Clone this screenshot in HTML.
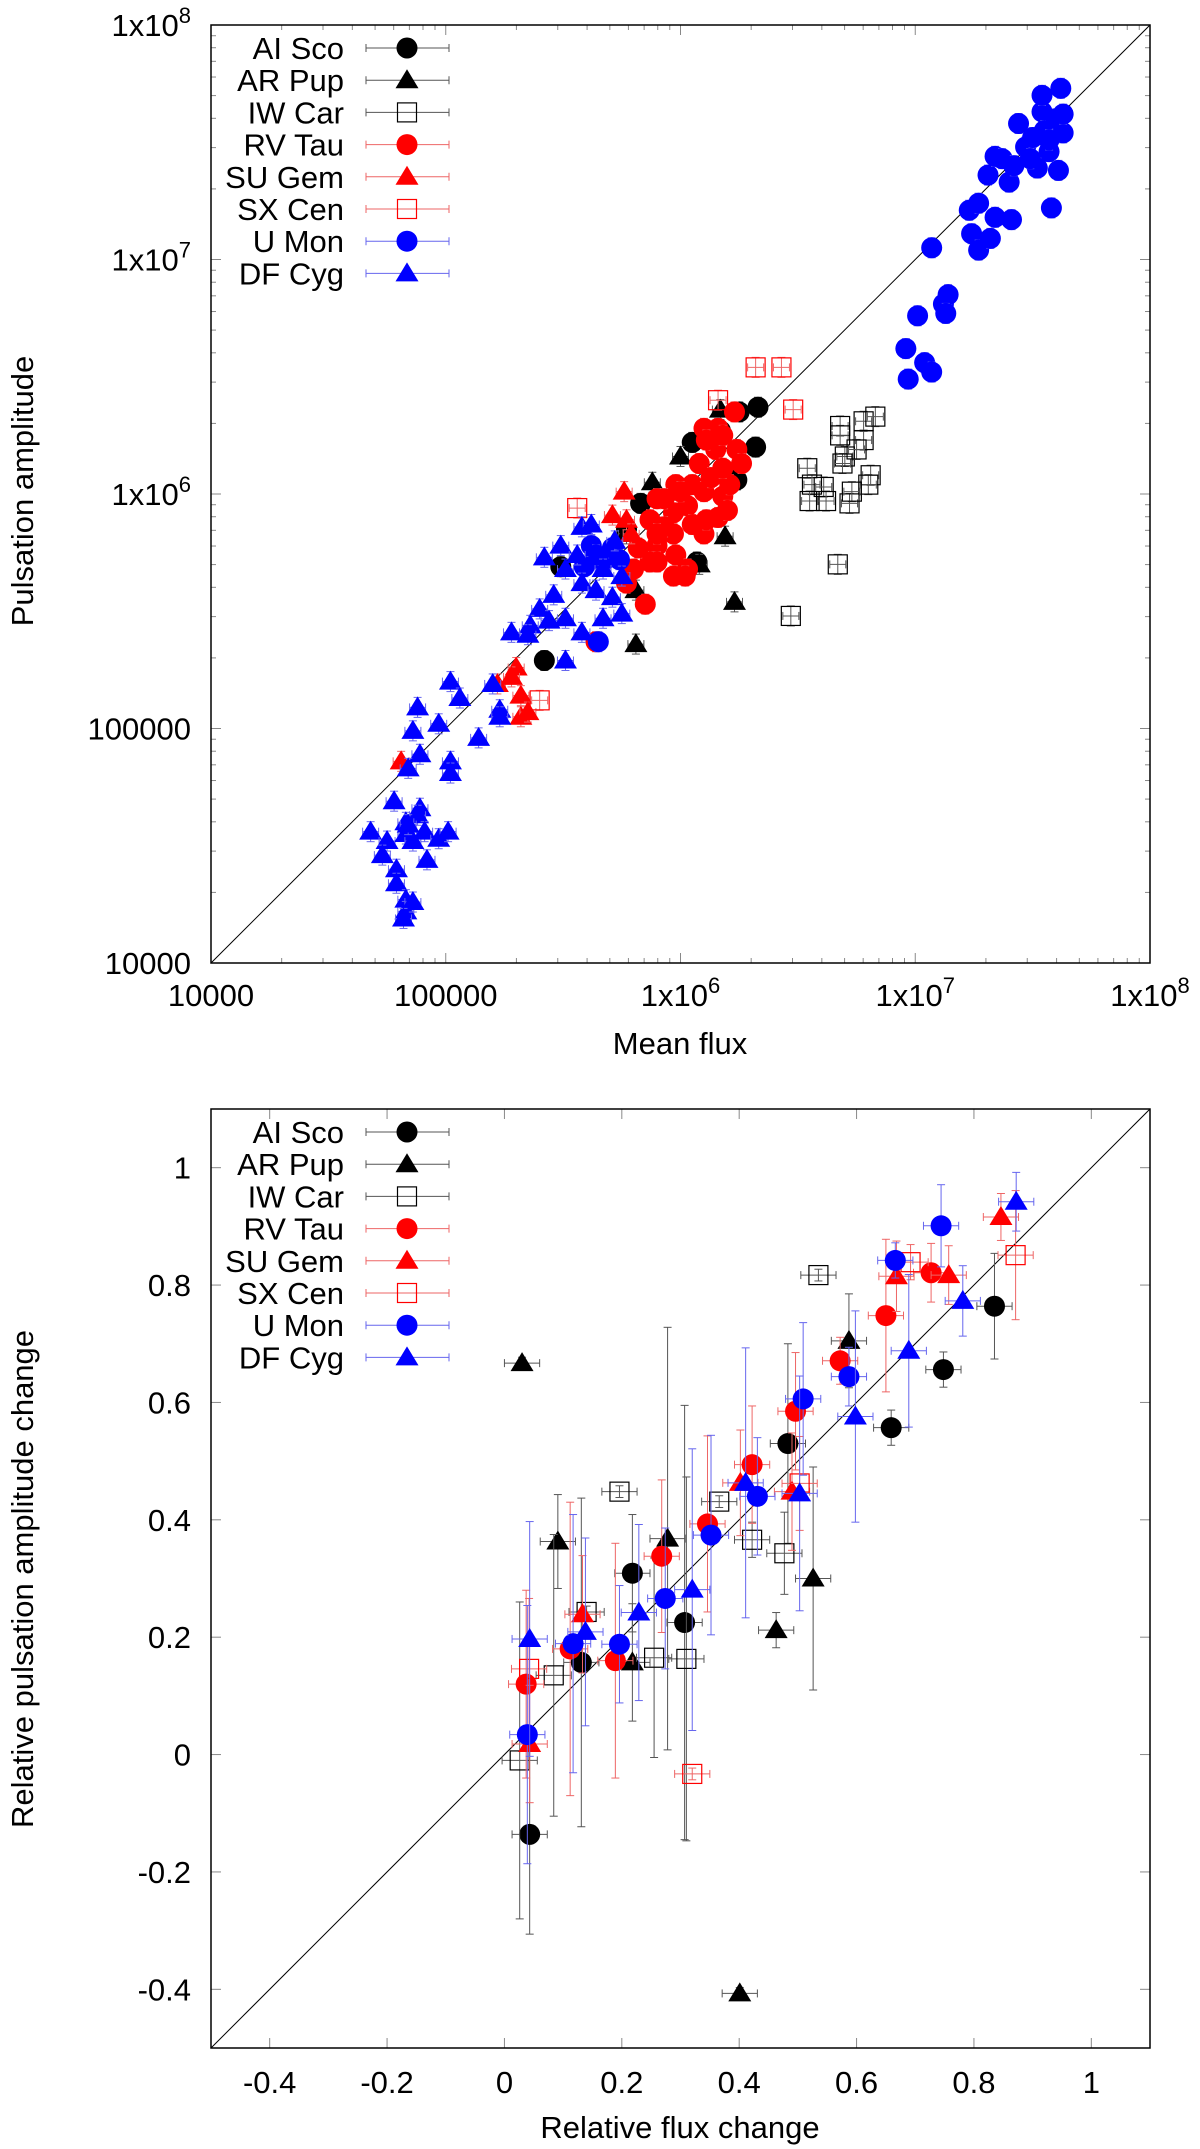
<!DOCTYPE html>
<html><head><meta charset="utf-8"><style>
html,body{margin:0;padding:0;background:#fff}
svg{display:block}
text{font-family:"Liberation Sans",sans-serif;fill:#000}
</style></head><body>
<svg id="chart" width="1200" height="2149" viewBox="0 0 1200 2149" xmlns="http://www.w3.org/2000/svg">
<g id="top"></g>
<g id="bot"></g>
</svg>
<script>
// ---------- TOP PANEL DATA (log10 values) ----------
const aiScoLogFlux=[6.33,6.32,5.42,5.49,5.83,5.77,6.07,6.24,6.17,6.05,6.25];
const aiScoLogAmp=[6.37,6.20,5.29,5.69,5.96,5.85,5.71,6.06,6.27,6.22,6.35];
const arPupLogFlux=[5.88,6.0,6.17,6.19,6.23,5.81,5.81,6.08,5.77];
const arPupLogAmp=[6.05,6.16,6.36,5.82,5.54,5.36,5.59,5.70,5.83];
const iwCarLogFlux=[6.68,6.68,6.78,6.83,6.70,6.78,6.54,6.56,6.61,6.55,6.62,6.72,6.81,6.80,6.73,6.67,6.47,6.69,6.75];
const iwCarLogAmp=[6.29,6.25,6.31,6.33,6.16,6.23,6.11,6.04,6.03,5.97,5.97,5.96,6.08,6.04,6.01,5.70,5.48,6.13,6.19];
const rvTauLogFlux=[6.23,6.16,6.10,6.24,6.26,6.15,6.08,6.05,5.98,5.90,5.87,5.97,6.03,6.10,6.18,6.21,6.13,6.05,5.97,5.90,5.87,5.98,6.03,5.97,5.90,5.80,5.85,5.64,6.02,6.16,6.10,6.11,5.93,6.00,6.18,6.18,6.11,6.20,5.93,5.90,5.82,5.77];
const rvTauLogAmp=[6.35,6.28,6.28,6.19,6.13,6.19,6.13,6.04,6.04,5.98,5.89,5.92,5.95,6.01,5.99,6.04,6.07,5.87,5.83,5.78,5.71,5.74,5.68,5.65,5.71,5.68,5.53,5.37,5.65,5.90,5.83,5.89,5.86,6.01,6.11,6.25,6.23,5.93,5.98,5.83,5.77,5.62];
const suGemLogFlux=[4.81,5.22,5.30,5.32,5.32,5.35,5.76,5.77,5.79,5.71,5.28];
const suGemLogAmp=[4.86,5.19,5.26,5.14,5.05,5.07,6.01,5.89,5.83,5.91,5.22];
const sxCenLogFlux=[6.32,6.43,6.48,6.16,5.56,5.40];
const sxCenLogAmp=[6.54,6.54,6.36,6.40,5.94,5.12];
const uMonLogFlux=[7.07,7.01,7.12,7.14,7.13,6.96,7.04,7.07,6.97,7.23,7.24,7.27,7.32,7.27,7.34,7.41,7.58,7.31,7.34,7.40,7.44,7.47,7.50,7.54,7.55,7.60,7.62,7.54,7.57,7.52,7.61,7.63,7.63,7.37,7.42,7.49,7.57,5.62,5.67,5.64,5.71,5.59,5.74,5.65];
const uMonLogAmp=[7.05,6.76,6.81,6.85,6.77,6.62,6.56,6.52,6.49,7.21,7.11,7.04,7.09,7.24,7.18,7.17,7.22,7.36,7.44,7.33,7.58,7.48,7.52,7.63,7.55,7.60,7.73,7.70,7.46,7.39,7.38,7.54,7.62,7.43,7.40,7.43,7.51,5.78,5.71,5.74,5.77,5.69,5.72,5.37];
const dfCygLogFlux=[5.58,5.62,5.49,5.42,5.51,5.58,5.64,5.71,5.46,5.40,5.44,5.36,5.51,5.58,5.67,5.75,5.28,5.35,5.51,5.56,5.67,5.72,5.75,5.02,5.06,5.20,5.23,5.23,4.97,4.88,4.86,4.89,4.84,5.02,5.02,5.14,4.78,4.68,4.75,4.73,4.79,4.79,4.83,4.83,4.86,4.89,4.88,4.83,4.83,4.86,4.91,4.97,5.01,4.92,4.84,4.82];
const dfCygLogAmp=[5.86,5.87,5.78,5.73,5.68,5.62,5.59,5.56,5.57,5.51,5.46,5.44,5.47,5.41,5.47,5.49,5.41,5.40,5.29,5.74,5.68,5.80,5.65,5.20,5.13,5.19,5.08,5.05,5.02,5.09,4.99,4.89,4.83,4.86,4.81,4.96,4.69,4.56,4.52,4.46,4.40,4.34,4.27,4.22,4.26,4.66,4.63,4.60,4.55,4.52,4.56,4.53,4.56,4.44,4.59,4.19];
const topXTicks=["10000","100000","1x10^6","1x10^7","1x10^8"];
const topYTicks=["10000","100000","1x10^6","1x10^7","1x10^8"];

// ---------- BOTTOM PANEL DATA ----------
const aiScoDx=[0.835,0.748,0.659,0.483,0.218,0.307,0.131,0.043];
const aiScoDa=[0.764,0.656,0.557,0.530,0.309,0.225,0.157,-0.136];
const aiScoErr=[0.09,0.03,0.03,0.17,0.1,0.37,0.28,0.17];
const arPupDx=[0.030,0.091,0.278,0.218,0.587,0.463,0.526,0.401];
const arPupDa=[0.667,0.363,0.368,0.157,0.705,0.212,0.300,-0.407];
const arPupErr=[0.01,0.08,0.36,0.1,0.08,0.03,0.19,0.01];
const iwCarDx=[0.535,0.196,0.366,0.422,0.477,0.140,0.084,0.255,0.310,0.026];
const iwCarDa=[0.817,0.448,0.431,0.366,0.343,0.243,0.135,0.165,0.163,-0.010];
const iwCarErr=[0.01,0.01,0.01,0.03,0.07,0.01,0.24,0.17,0.31,0.27];
const rvTauDx=[0.727,0.650,0.572,0.496,0.422,0.346,0.268,0.112,0.189,0.037];
const rvTauDa=[0.821,0.748,0.671,0.585,0.494,0.393,0.338,0.180,0.160,0.120];
const rvTauErr=[0.05,0.13,0.04,0.1,0.1,0.15,0.13,0.25,0.2,0.16];
const suGemDx=[0.846,0.757,0.668,0.490,0.402,0.133,0.043];
const suGemDa=[0.916,0.817,0.815,0.448,0.463,0.239,0.018];
const suGemErr=[0.04,0.05,0.06,0.1,0.09,0.1,0.1];
const sxCenDx=[0.871,0.692,0.503,0.320,0.042];
const sxCenDa=[0.851,0.839,0.462,-0.033,0.146];
const sxCenErr=[0.11,0.03,0.08,0.01,0.12];
const uMonDx=[0.744,0.666,0.587,0.509,0.431,0.352,0.274,0.196,0.117,0.039];
const uMonDa=[0.901,0.842,0.644,0.606,0.440,0.374,0.266,0.188,0.189,0.034];
const uMonErr=[0.07,0.03,0.05,0.13,0.1,0.17,0.12,0.1,0.22,0.22];
const dfCygDx=[0.872,0.781,0.689,0.598,0.503,0.411,0.320,0.229,0.138,0.043];
const dfCygDa=[0.942,0.773,0.688,0.576,0.445,0.463,0.281,0.242,0.209,0.197];
const dfCygErr=[0.05,0.06,0.13,0.18,0.2,0.23,0.24,0.15,0.16,0.2];
const botXTicks=[-0.4,-0.2,0,0.2,0.4,0.6,0.8,1];
const botYTicks=[-0.4,-0.2,0,0.2,0.4,0.6,0.8,1];
const seriesNames=["AI Sco","AR Pup","IW Car","RV Tau","SU Gem","SX Cen","U Mon","DF Cyg"];

const NS="http://www.w3.org/2000/svg";
function mk(parent,tag,attrs){const e=document.createElementNS(NS,tag);for(const k in attrs)e.setAttribute(k,attrs[k]);parent.appendChild(e);return e;}

const L=211,R=1150,FS=31;
const tx=v=>L+(v-4)*(R-L)/4;
const ty=v=>25+(8-v)*938/4;
const bx=v=>L+(v+0.5)*(R-L)/1.6;
const by=v=>1109+(1.1-v)*939/1.6;

const styles=[
 {shape:"circle",color:"#000",err:"#555"},
 {shape:"tri",color:"#000",err:"#555"},
 {shape:"square",color:"#000",err:"#555"},
 {shape:"circle",color:"#f00",err:"#e66"},
 {shape:"tri",color:"#f00",err:"#e66"},
 {shape:"square",color:"#f00",err:"#e66"},
 {shape:"circle",color:"#00f",err:"#66e"},
 {shape:"tri",color:"#00f",err:"#66e"}];

function marker(g,st,x,y,name){
 let e;
 if(st.shape==="circle")e=mk(g,"circle",{cx:x,cy:y,r:10.5,fill:st.color});
 else if(st.shape==="tri")e=mk(g,"polygon",{points:`${x},${y-11} ${x-11.5},${y+8} ${x+11.5},${y+8}`,fill:st.color});
 else e=mk(g,"rect",{x:x-9.5,y:y-9.5,width:19,height:19,fill:"none",stroke:st.color,"stroke-width":1.2});
 
 
 return e;
}
function errbar(g,st,x1,y1,x2,y2,vertical){
 mk(g,"line",{x1,y1,x2,y2,stroke:st.err,"stroke-width":1});
 if(vertical){mk(g,"line",{x1:x1-4,y1,x2:x1+4,y2:y1,stroke:st.err});mk(g,"line",{x1:x2-4,y1:y2,x2:x2+4,y2,stroke:st.err});}
 else{mk(g,"line",{x1,y1:y1-4,x2:x1,y2:y1+4,stroke:st.err});mk(g,"line",{x1:x2,y1:y2-4,x2,y2:y2+4,stroke:st.err});}
}
function legend(g,yStart,step){
 seriesNames.forEach((n,i)=>{
  const y=yStart+i*step;const st=styles[i];
  const t=mk(g,"text",{x:344,y:y+11,"font-size":FS,"text-anchor":"end"});t.textContent=n;
  
  
  errbar(g,st,366,y,449,y,false);
  marker(g,st,407,y,'legend-marker');
 });
}
function frame(g,T,B,name){
 const r=mk(g,"rect",{x:L,y:T,width:R-L,height:B-T,fill:"none",stroke:"#000","stroke-width":1.5});
 
 
}

// ---------- TOP ----------
(function(){
 const g=document.getElementById("top");
 for(let d=4;d<8;d++){for(let k=1;k<10;k++){const v=d+Math.log10(k);const len=k===1?10:5;
  const x=tx(v);mk(g,"line",{x1:x,y1:963,x2:x,y2:963-len,stroke:"#888"});mk(g,"line",{x1:x,y1:25,x2:x,y2:25+len,stroke:"#888"});
  const y=ty(v);mk(g,"line",{x1:L,y1:y,x2:L+len,y2:y,stroke:"#888"});mk(g,"line",{x1:R,y1:y,x2:R-len,y2:y,stroke:"#888"});}}
 function tick(lbl,x,y,anchor,name){
  const t=mk(g,"text",{x,y,"font-size":FS,"text-anchor":anchor});
  const m=lbl.match(/^1x10\^(\d)$/);
  if(m){t.textContent="1x10";const s=mk(t,"tspan",{dy:-13,"font-size":22});s.textContent=m[1];}else t.textContent=lbl;
  
  
 }
 topXTicks.forEach((l,i)=>tick(l,tx(4+i),1006,"middle","x-tick-label"));
 topYTicks.forEach((l,i)=>tick(l,191,ty(4+i)+11,"end","y-tick-label"));
 const xl=mk(g,"text",{x:680,y:1054,"font-size":FS,"text-anchor":"middle"});xl.textContent="Mean flux";
 
 
 const yl=mk(g,"text",{x:0,y:0,"font-size":FS,"text-anchor":"middle",transform:"translate(33,491) rotate(-90)"});yl.textContent="Pulsation amplitude";
 
 
 const dl=mk(g,"line",{x1:tx(4),y1:ty(4),x2:tx(8),y2:ty(8),stroke:"#000","stroke-width":1});
 
 
 const xs=[aiScoLogFlux,arPupLogFlux,iwCarLogFlux,rvTauLogFlux,suGemLogFlux,sxCenLogFlux,uMonLogFlux,dfCygLogFlux];
 const ys=[aiScoLogAmp,arPupLogAmp,iwCarLogAmp,rvTauLogAmp,suGemLogAmp,sxCenLogAmp,uMonLogAmp,dfCygLogAmp];
 xs.forEach((arr,i)=>{const st=styles[i];
  arr.forEach((v,j)=>{const x=tx(v),y=ty(ys[i][j]);
   errbar(g,st,x-8,y,x+8,y,false);errbar(g,st,x,y-10,x,y+10,true);
   marker(g,st,x,y,'point-'+seriesNames[i].toLowerCase().replace(' ','-'));});});
 legend(g,48,32.2);
 frame(g,25,963,'top-plot-frame');
})();

// ---------- BOTTOM ----------
(function(){
 const g=document.getElementById("bot");
 botXTicks.forEach(v=>{const x=bx(v);mk(g,"line",{x1:x,y1:2048,x2:x,y2:2038,stroke:"#888"});mk(g,"line",{x1:x,y1:1109,x2:x,y2:1119,stroke:"#888"});
  const t=mk(g,"text",{x,y:2093,"font-size":FS,"text-anchor":"middle"});t.textContent=String(v);
  
  });
 botYTicks.forEach(v=>{const y=by(v);mk(g,"line",{x1:L,y1:y,x2:L+10,y2:y,stroke:"#888"});mk(g,"line",{x1:R,y1:y,x2:R-10,y2:y,stroke:"#888"});
  const t=mk(g,"text",{x:191,y:y+11,"font-size":FS,"text-anchor":"end"});t.textContent=String(v);
  
  });
 const xl=mk(g,"text",{x:680,y:2138,"font-size":FS,"text-anchor":"middle"});xl.textContent="Relative flux change";
 
 
 const yl=mk(g,"text",{x:0,y:0,"font-size":FS,"text-anchor":"middle",transform:"translate(33,1579) rotate(-90)"});yl.textContent="Relative pulsation amplitude change";
 
 
 const dl=mk(g,"line",{x1:bx(-0.5),y1:by(-0.5),x2:bx(1.1),y2:by(1.1),stroke:"#000","stroke-width":1});
 
 
 const xs=[aiScoDx,arPupDx,iwCarDx,rvTauDx,suGemDx,sxCenDx,uMonDx,dfCygDx];
 const ys=[aiScoDa,arPupDa,iwCarDa,rvTauDa,suGemDa,sxCenDa,uMonDa,dfCygDa];
 const es=[aiScoErr,arPupErr,iwCarErr,rvTauErr,suGemErr,sxCenErr,uMonErr,dfCygErr];
 xs.forEach((arr,i)=>{const st=styles[i];
  arr.forEach((v,j)=>{const x=bx(v),y=by(ys[i][j]);const e=es[i][j];
   errbar(g,st,bx(v-0.03),y,bx(v+0.03),y,false);
   errbar(g,st,x,by(ys[i][j]+e),x,by(ys[i][j]-e),true);
   marker(g,st,x,y,'point-'+seriesNames[i].toLowerCase().replace(' ','-'));});});
 legend(g,1132,32.2);
 frame(g,1109,2048,'bottom-plot-frame');
})();
</script>
</body></html>
